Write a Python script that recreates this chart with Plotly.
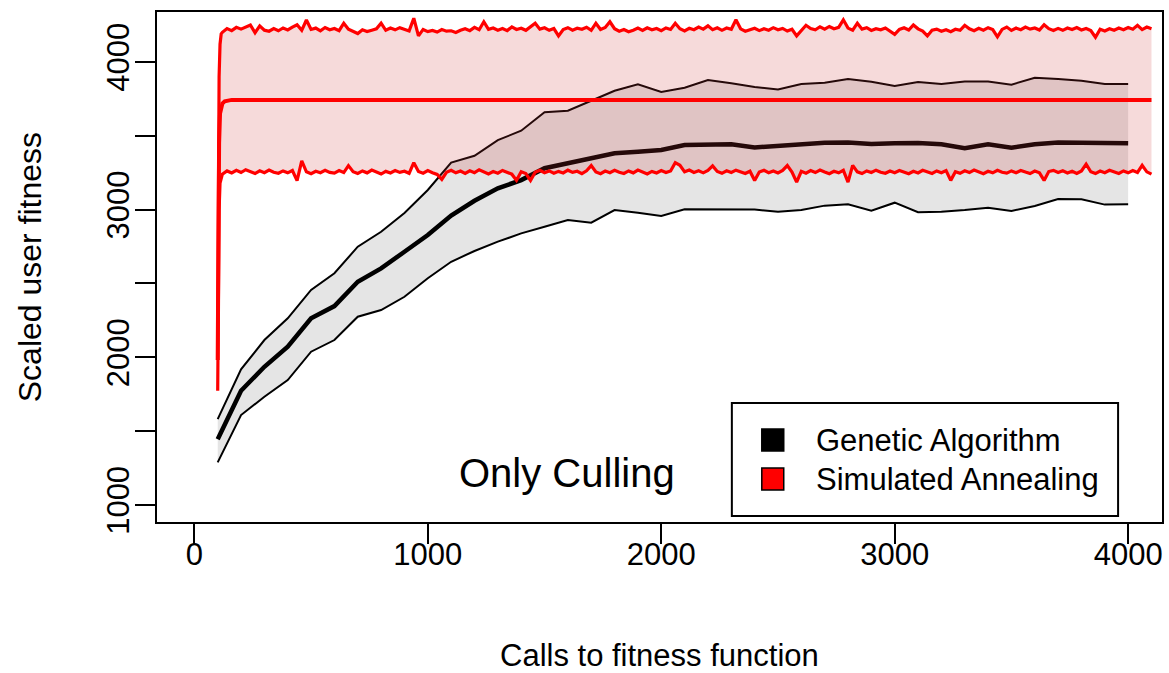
import plotly.graph_objects as go

# ---------------- data ----------------
GA_X = list(range(100, 4001, 100))
GA_MEAN = [1445, 1774, 1936, 2072, 2264, 2347, 2512, 2602, 2715, 2828,
           2960, 3060, 3144, 3200, 3280, 3313, 3347, 3381, 3392, 3404,
           3437, 3442, 3442, 3421, 3433, 3442, 3453, 3455, 3444, 3449,
           3451, 3442, 3415, 3442, 3419, 3442, 3455, 3453, 3449, 3449]
GA_UPPER = [1582, 1919, 2117, 2264, 2456, 2569, 2749, 2850, 2977, 3133,
            3318, 3365, 3471, 3534, 3659, 3670, 3737, 3805, 3848, 3796,
            3825, 3877, 3855, 3830, 3814, 3850, 3859, 3884, 3866, 3837,
            3864, 3850, 3868, 3868, 3846, 3893, 3884, 3873, 3850, 3850]
GA_LOWER = [1289, 1609, 1733, 1846, 2038, 2117, 2275, 2320, 2410, 2535,
            2647, 2720, 2783, 2839, 2884, 2930, 2912, 2997, 2979, 2957,
            3002, 3002, 2997, 3000, 2986, 2997, 3027, 3036, 2993, 3047,
            2982, 2986, 2997, 3013, 2991, 3025, 3072, 3070, 3034, 3036]

# Simulated annealing: steep start, then band sampled every 20 calls from 120
SA_START_X = [100, 103, 106, 110, 115]
SA_START_UPPER = [2190, 3250, 3900, 4120, 4190]
SA_START_LOWER = [1774, 2550, 3000, 3180, 3225]
SA_BAND_FIRST_X = 120
SA_BAND_STEP = 20
SA_UPPER = [
    4200, 4226, 4212, 4234, 4222, 4238, 4250, 4198, 4244, 4215,
    4208, 4226, 4211, 4230, 4217, 4236, 4252, 4214, 4284, 4220,
    4229, 4210, 4233, 4218, 4226, 4212, 4262, 4221, 4209, 4192,
    4218, 4206, 4215, 4224, 4262, 4214, 4229, 4217, 4232, 4221,
    4210, 4296, 4176, 4220, 4205, 4213, 4202, 4219, 4208, 4211,
    4199, 4214, 4225, 4212, 4234, 4218, 4272, 4221, 4230, 4215,
    4226, 4212, 4237, 4220, 4228, 4214, 4240, 4262, 4222, 4231,
    4214, 4226, 4176, 4219, 4232, 4215, 4228, 4221, 4235, 4214,
    4262, 4220, 4233, 4272, 4225, 4208, 4219, 4204, 4215, 4229,
    4213, 4231, 4218, 4226, 4212, 4230, 4220, 4262, 4225, 4210,
    4228, 4218, 4236, 4222, 4244, 4218, 4231, 4214, 4230, 4221,
    4285, 4224, 4208, 4219, 4228, 4212, 4225, 4215, 4232, 4218,
    4227, 4209, 4221, 4176, 4214, 4248, 4226, 4217, 4238, 4222,
    4240, 4225, 4234, 4285, 4229, 4215, 4262, 4222, 4232, 4213,
    4225, 4218, 4230, 4211, 4187, 4220, 4231, 4216, 4250, 4224,
    4209, 4176, 4215, 4222, 4208, 4218, 4205, 4221, 4214, 4248,
    4224, 4211, 4228, 4215, 4232, 4219, 4170, 4220, 4236, 4213,
    4229, 4218, 4236, 4222, 4230, 4216, 4252, 4225, 4213, 4227,
    4214, 4230, 4219, 4233, 4216, 4226, 4212, 4167, 4221, 4210,
    4225, 4214, 4229, 4218, 4233, 4221, 4248, 4219, 4236, 4225]
SA_LOWER = [
    3240, 3262, 3248, 3266, 3251, 3270, 3255, 3244, 3263, 3250,
    3268, 3253, 3246, 3262, 3249, 3265, 3196, 3330, 3256, 3243,
    3260, 3250, 3266, 3252, 3247, 3264, 3251, 3298, 3257, 3245,
    3262, 3249, 3268, 3254, 3241, 3259, 3248, 3265, 3252, 3260,
    3246, 3318, 3258, 3247, 3264, 3250, 3238, 3205, 3252, 3266,
    3249, 3261, 3245, 3263, 3250, 3270, 3255, 3242, 3258, 3247,
    3265, 3251, 3240, 3198, 3256, 3244, 3197, 3253, 3266, 3250,
    3262, 3246, 3259, 3248, 3267, 3252, 3260, 3244, 3263, 3298,
    3255, 3243, 3261, 3250, 3266, 3253, 3245, 3262, 3249, 3268,
    3254, 3242, 3259, 3248, 3264, 3251, 3262, 3318, 3300, 3256,
    3268, 3252, 3263, 3249, 3266, 3296, 3258, 3246, 3263, 3251,
    3267, 3254, 3245, 3260, 3197, 3255, 3266, 3250, 3262, 3248,
    3265, 3298, 3254, 3186, 3259, 3247, 3264, 3251, 3268, 3255,
    3243, 3260, 3249, 3266, 3186, 3300, 3256, 3244, 3262, 3251,
    3267, 3253, 3246, 3261, 3250, 3265, 3252, 3243, 3260, 3248,
    3266, 3254, 3245, 3262, 3250, 3264, 3198, 3257, 3246, 3263,
    3251, 3268, 3255, 3243, 3260, 3249, 3266, 3253, 3247, 3262,
    3250, 3265, 3254, 3244, 3261, 3249, 3198, 3258, 3266, 3251,
    3263, 3248, 3260, 3245, 3262, 3308, 3256, 3244, 3261, 3250,
    3266, 3253, 3245, 3262, 3249, 3265, 3252, 3300, 3256, 3240]
SA_MEAN_X = [100, 103, 106, 110, 115, 120, 130, 145, 160, 4100]
SA_MEAN = [1982, 2900, 3450, 3650, 3700, 3718, 3733, 3741, 3743, 3743]

X_TICKS = [0, 1000, 2000, 3000, 4000]
Y_TICKS = [1000, 1500, 2000, 2500, 3000, 3500, 4000]
Y_TICK_TEXT = ["1000", "", "2000", "", "3000", "", "4000"]

LEGEND_LABELS = ["Genetic Algorithm", "Simulated Annealing"]
LEGEND_COLORS = ["#000000", "#FF0000"]
PANEL_LABEL = "Only Culling"
X_TITLE = "Calls to fitness function"
Y_TITLE = "Scaled user fitness"

# ---------------- figure ----------------
FONT = "Liberation Sans, Arial, Helvetica, sans-serif"
W, H = 1169, 673
L, R, T, B = 157, 5, 12, 151

sa_band_x = [SA_BAND_FIRST_X + SA_BAND_STEP * i for i in range(len(SA_UPPER))]
sa_x = SA_START_X + sa_band_x
sa_up = SA_START_UPPER + SA_UPPER
sa_lo = SA_START_LOWER + SA_LOWER

fig = go.Figure()

# GA band + lines
fig.add_trace(go.Scatter(x=GA_X + GA_X[::-1], y=GA_UPPER + GA_LOWER[::-1],
                         fill="toself", fillcolor="rgba(0,0,0,0.10)",
                         mode="lines", line=dict(width=0), hoverinfo="skip"))
fig.add_trace(go.Scatter(x=GA_X, y=GA_UPPER, mode="lines",
                         line=dict(color="black", width=2)))
fig.add_trace(go.Scatter(x=GA_X, y=GA_LOWER, mode="lines",
                         line=dict(color="black", width=2)))
fig.add_trace(go.Scatter(x=GA_X, y=GA_MEAN, mode="lines",
                         line=dict(color="black", width=4.5)))

# SA band + lines
fig.add_trace(go.Scatter(x=sa_x + sa_x[::-1], y=sa_up + sa_lo[::-1],
                         fill="toself", fillcolor="rgba(205,50,50,0.18)",
                         mode="lines", line=dict(width=0), hoverinfo="skip"))
fig.add_trace(go.Scatter(x=sa_x, y=sa_up, mode="lines",
                         line=dict(color="#FF0000", width=3.2)))
fig.add_trace(go.Scatter(x=sa_x, y=sa_lo, mode="lines",
                         line=dict(color="#FF0000", width=3.2)))
fig.add_trace(go.Scatter(x=SA_MEAN_X, y=SA_MEAN, mode="lines",
                         line=dict(color="#FF0000", width=4)))

pw = W - L - R
ph = H - T - B


def px(xpix):
    return (xpix - L) / pw


def py(ypix):
    return (H - B - ypix) / ph


shapes = []
annotations = []

# legend box
shapes.append(dict(type="rect", xref="paper", yref="paper",
                   x0=px(733), x1=px(1120), y0=py(516), y1=py(403),
                   line=dict(color="black", width=2), fillcolor="white"))
row_y = [440, 479]
for lab, col, yy in zip(LEGEND_LABELS, LEGEND_COLORS, row_y):
    shapes.append(dict(type="rect", xref="paper", yref="paper",
                       x0=px(763), x1=px(785), y0=py(yy + 11), y1=py(yy - 11),
                       line=dict(color="black", width=1.5), fillcolor=col))
    annotations.append(dict(text=lab, xref="paper", yref="paper",
                            x=px(815), y=py(yy), xanchor="left", yanchor="middle",
                            showarrow=False,
                            font=dict(family=FONT, size=31, color="black")))

annotations.append(dict(text=PANEL_LABEL, xref="paper", yref="paper",
                        x=px(568), y=py(473), xanchor="center", yanchor="middle",
                        showarrow=False, font=dict(family=FONT, size=40, color="black")))
annotations.append(dict(text=X_TITLE, xref="paper", yref="paper",
                        x=0.5, y=py(655), xanchor="center", yanchor="middle",
                        showarrow=False, font=dict(family=FONT, size=31, color="black")))
annotations.append(dict(text=Y_TITLE, xref="paper", yref="paper",
                        x=px(30), y=0.5, xanchor="center", yanchor="middle",
                        textangle=-90, showarrow=False,
                        font=dict(family=FONT, size=32, color="black")))

axis_common = dict(showgrid=False, zeroline=False, showline=True, mirror=True,
                   linecolor="black", linewidth=2, ticks="outside", ticklen=20,
                   tickwidth=2, tickcolor="black",
                   tickfont=dict(family=FONT, size=31, color="black"))

fig.update_layout(
    width=W, height=H, autosize=False,
    margin=dict(l=L, r=R, t=T, b=B, pad=0),
    paper_bgcolor="white", plot_bgcolor="white",
    showlegend=False,
    xaxis=dict(range=[-160, 4145], tickvals=X_TICKS,
               ticktext=[str(v) for v in X_TICKS], ticklabelstandoff=-16,
               **axis_common),
    yaxis=dict(range=[885, 4338], tickvals=Y_TICKS, ticktext=Y_TICK_TEXT,
               tickangle=-90, ticklabelstandoff=-6, **axis_common),
    shapes=shapes,
    annotations=annotations,
)

fig.write_html("out.html")
